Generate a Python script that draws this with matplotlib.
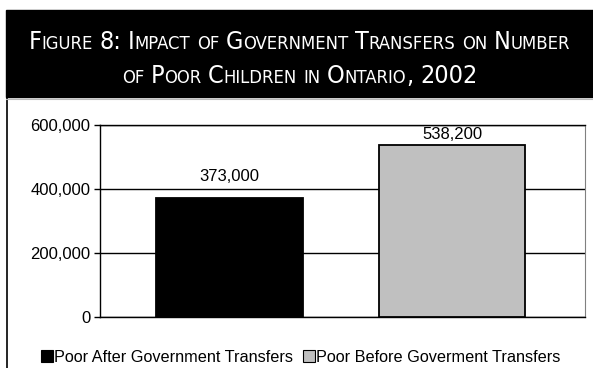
import matplotlib.pyplot as plt
import numpy as np
from matplotlib.patches import Rectangle
from matplotlib.lines import Line2D

# data
series = ['Poor After Government Transfers', 'Poor Before Goverment Transfers']
values = [373000, 538200]
value_labels = ['373,000', '538,200']
bar_colors = ['#000000', '#c0c0c0']
label_pad = [9.5, 2]
yticks = [0, 200000, 400000, 600000]

title_lines = ['Figure 8: Impact of Government Transfers on Number',
               'of Poor Children in Ontario, 2002']

plt.rcParams['font.family'] = ['Liberation Sans', 'DejaVu Sans']

fig = plt.figure(figsize=(5.93, 3.68), dpi=100)
W, H = 593, 368

# black banner + outer box
fig.patches.append(Rectangle((6 / W, 1 - 97 / H), 1 - 6 / W, 87 / H,
                             transform=fig.transFigure, color='black', zorder=0))
fig.lines.append(Line2D([6.5 / W, 6.5 / W], [0, 1 - 97 / H], transform=fig.transFigure,
                        color='black', lw=1.2))
fig.lines.append(Line2D([6 / W, 1], [1 - 99 / H, 1 - 99 / H], transform=fig.transFigure,
                        color='#bbbbbb', lw=0.8))

# small caps title, built word by word
big, small = 18, 13.2
space_px = 6.5
renderer = fig.canvas.get_renderer()


def smallcaps_runs(line):
    runs = []
    for word in line.split(' '):
        if word[0].islower():
            runs.append((word.upper(), small))
        elif word[0].isdigit():
            runs.append((word, big))
        else:
            runs.append((word[0], big))
            rest = word[1:]
            if rest.endswith(','):
                runs.append((rest[:-1].upper(), small))
                runs.append((',', big))
            elif rest:
                runs.append((rest.upper(), small))
        runs.append((' ', big))
    return runs[:-1]


for line, base in zip(title_lines, [49, 83]):
    texts = []
    for s, size in smallcaps_runs(line):
        t = fig.text(0, 1 - base / H, s, color='white', fontsize=size,
                     family='DejaVu Sans', fontstretch='condensed',
                     ha='left', va='baseline')
        texts.append(t)
    widths = []
    for t in texts:
        if t.get_text() == ' ':
            widths.append(space_px)
        else:
            widths.append(t.get_window_extent(renderer).width)
    x = (6 + W) / 2 - sum(widths) / 2
    for t, w in zip(texts, widths):
        t.set_x(x / W)
        x += w

# chart
ax = fig.add_axes([100 / W, 1 - 317 / H, 485 / W, 192 / H])
x = np.arange(len(values))
ax.bar(x, values, width=0.66, color=bar_colors, edgecolor='black',
       linewidth=1.3, zorder=3)
for xi, v, lab, pad in zip(x, values, value_labels, label_pad):
    ax.annotate(lab, (xi, v), xytext=(0, pad), textcoords='offset points',
                ha='center', va='bottom', fontsize=12, zorder=4)

ax.set_xlim(-0.582, 1.598)
ax.set_ylim(0, 600000)
ax.set_yticks(yticks)
ax.set_yticklabels([f'{v:,}' for v in yticks], fontsize=12)
ax.set_xticks([])
ax.yaxis.grid(True, color='black', lw=1.0, zorder=0)
ax.tick_params(axis='y', length=4, width=1, pad=3)
for side in ['left', 'bottom', 'top']:
    ax.spines[side].set_color('black')
    ax.spines[side].set_linewidth(1.0)
ax.spines['right'].set_color('#808080')

handles = [Rectangle((0, 0), 1, 1, facecolor=c, edgecolor='black', lw=0.8) for c in bar_colors]
fig.legend(handles, series, loc='center', bbox_to_anchor=(300.5 / W, 1 - 357 / H),
           ncol=2, frameon=False, fontsize=11.7, handlelength=0.75, handleheight=0.75,
           handletextpad=0.05, columnspacing=0.65, borderaxespad=0, borderpad=0)

fig.savefig('out.png', dpi=100)
